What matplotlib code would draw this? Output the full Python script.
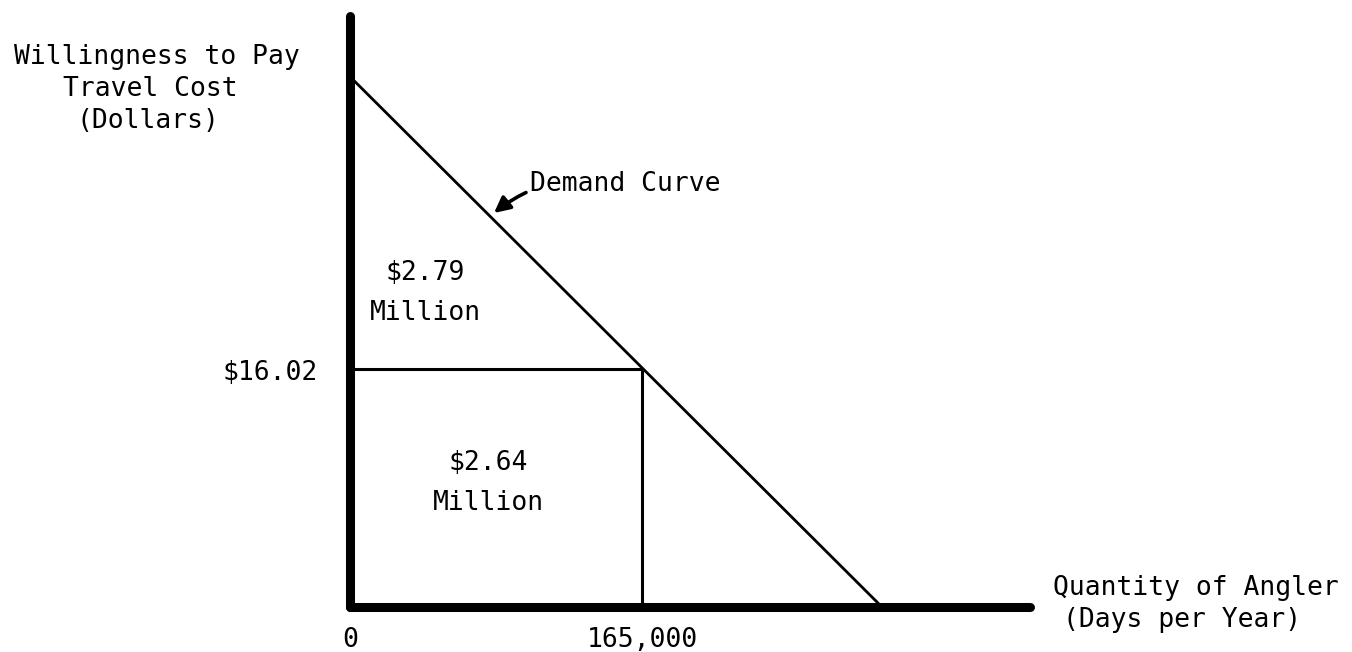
import matplotlib.pyplot as plt

# demand curve (days per year, dollars)
demand_q = [0, 300600]
demand_p = [35.7, 0]

# observed point
q_obs = 165000
p_obs = 16.02

# drawn length of the axes
x_axis_end = 384000
y_axis_top = 39.8

area_labels = ["$2.79\nMillion", "$2.64\nMillion"]

font = {"family": "DejaVu Sans Mono", "fontsize": 19, "color": "black"}

fig = plt.figure(figsize=(13.52, 6.52), dpi=100)
ax = fig.add_axes([0, 0, 1, 1])
ax.set_xlim(-197774, 566199)
ax.set_ylim(-3.03, 40.86)
ax.axis("off")

# heavy hand-drawn axes
ax.plot([0, 0], [0, y_axis_top], color="black", lw=6.5, solid_capstyle="round")
ax.plot([0, x_axis_end], [0, 0], color="black", lw=6.5, solid_capstyle="round")

# demand curve
ax.plot(demand_q, demand_p, color="black", lw=2.0)

# price / quantity box
ax.plot([0, q_obs], [p_obs, p_obs], color="black", lw=2.2)
ax.plot([q_obs, q_obs], [0, p_obs], color="black", lw=2.2)

# axis labels (typed)
def px(x, y):
    # pixel position -> data coords
    return ax.transData.inverted().transform(fig.transFigure.transform((x / 1352, 1 - y / 652)))

for txt, (x, y) in [("Willingness to Pay", (157, 57)),
                    ("Travel Cost", (150, 89)),
                    ("(Dollars)", (148, 121))]:
    ax.text(*px(x, y), txt, ha="center", va="center", **font)

ax.text(*px(1053, 588), "Quantity of Angler", ha="left", va="center", **font)
ax.text(*px(1063, 620), "(Days per Year)", ha="left", va="center", **font)

ax.text(*px(318, 373), "$16.02", ha="right", va="center", **font)
ax.text(0, px(0, 640)[1], "0", ha="center", va="center", **font)
ax.text(q_obs, px(0, 640)[1], "165,000", ha="center", va="center", **font)

# area labels
ax.text(*px(425, 293), area_labels[0], ha="center", va="center", linespacing=1.7, **font)
ax.text(*px(488, 483), area_labels[1], ha="center", va="center", linespacing=1.7, **font)

# demand curve annotation
ax.annotate("Demand Curve", xy=px(494, 213), xytext=px(530, 184),
            ha="left", va="center", **font,
            arrowprops=dict(arrowstyle="-|>,head_length=0.5,head_width=0.25",
                            color="black", lw=2.6,
                            connectionstyle="arc3,rad=0.25",
                            shrinkA=1, shrinkB=0))

fig.savefig("out.png", dpi=100)
